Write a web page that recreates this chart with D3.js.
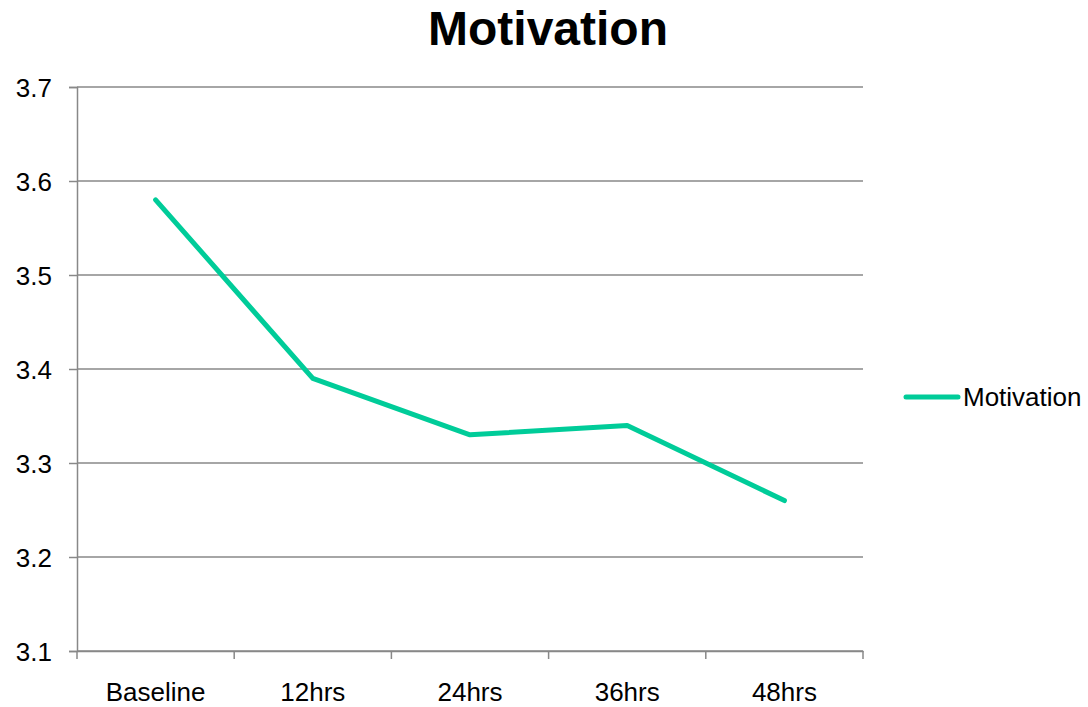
<!DOCTYPE html>
<html>
<head>
<meta charset="utf-8">
<script src="https://cdn.jsdelivr.net/npm/d3@7"></script>
<style>
  html, body { margin: 0; padding: 0; background: #fff; }
  svg text { font-family: "Liberation Sans", Arial, sans-serif; fill: #000; }
</style>
</head>
<body>
<svg id="chart" width="1088" height="707"></svg>
<script>
// Motivation scores over time
const categories = ["Baseline", "12hrs", "24hrs", "36hrs", "48hrs"];
const motivation = [3.58, 3.39, 3.33, 3.34, 3.26];
const yTicks = [3.1, 3.2, 3.3, 3.4, 3.5, 3.6, 3.7];
const seriesName = "Motivation";
const chartTitle = "Motivation";

const svg = d3.select("#chart");
const plot = { left: 77, right: 863, top: 87, bottom: 651 };
const lineColor = "#00CC99";
const gridColor = "#888888";
const labelSize = 26;

const x = d3.scaleBand().domain(categories).range([plot.left, plot.right]);
const y = d3.scaleLinear().domain([3.1, 3.7]).range([plot.bottom, plot.top]);

// Horizontal gridlines
svg.append("g")
  .selectAll("line")
  .data(yTicks)
  .join("line")
  .attr("x1", plot.left).attr("x2", plot.right)
  .attr("y1", d => y(d)).attr("y2", d => y(d))
  .attr("stroke", gridColor).attr("stroke-width", 1.5);

// Y axis
const yAxis = svg.append("g")
  .attr("transform", `translate(${plot.left},0)`)
  .call(d3.axisLeft(y).tickValues(yTicks).tickFormat(d3.format(".1f")).tickSize(8).tickPadding(17));
yAxis.select(".domain").attr("stroke", gridColor).attr("stroke-width", 1.5);
yAxis.selectAll(".tick line").attr("stroke", gridColor).attr("stroke-width", 1.5);
yAxis.selectAll("text").attr("font-size", labelSize).attr("dy", "0.35em");

// X axis with ticks at band boundaries
const xAxis = svg.append("g")
  .attr("transform", `translate(0,${plot.bottom})`)
  .call(d3.axisBottom(x).tickSize(0).tickPadding(32));
xAxis.select(".domain").attr("stroke", gridColor).attr("stroke-width", 1.5);
xAxis.selectAll("text").attr("font-size", labelSize);
const bounds = categories.map(c => x(c)).concat([plot.right]);
xAxis.append("g").selectAll("line")
  .data(bounds)
  .join("line")
  .attr("x1", d => d).attr("x2", d => d)
  .attr("y1", 0).attr("y2", 8)
  .attr("stroke", gridColor).attr("stroke-width", 1.5);

// Series line
const line = d3.line()
  .x((d, i) => x(categories[i]) + x.bandwidth() / 2)
  .y(d => y(d));
svg.append("path")
  .datum(motivation)
  .attr("d", line)
  .attr("fill", "none")
  .attr("stroke", lineColor)
  .attr("stroke-width", 5)
  .attr("stroke-linejoin", "round")
  .attr("stroke-linecap", "round");

// Title
svg.append("text")
  .attr("x", 548).attr("y", 45)
  .attr("text-anchor", "middle")
  .attr("font-size", 48).attr("font-weight", "bold")
  .text(chartTitle);

// Legend
const legend = svg.append("g").attr("transform", "translate(906,397)");
legend.append("line")
  .attr("x1", 0).attr("x2", 52).attr("y1", 0).attr("y2", 0)
  .attr("stroke", lineColor).attr("stroke-width", 5).attr("stroke-linecap", "round");
legend.append("text")
  .attr("x", 57).attr("y", 0).attr("dy", "0.35em")
  .attr("font-size", labelSize)
  .text(seriesName);
</script>
</body>
</html>
